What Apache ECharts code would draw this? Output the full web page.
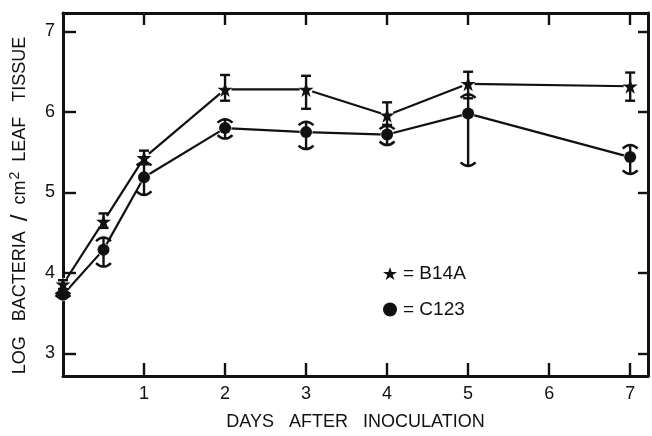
<!DOCTYPE html>
<html>
<head>
<meta charset="utf-8">
<script src="https://cdn.jsdelivr.net/npm/echarts@6/dist/echarts.min.js"></script>
<style>
html,body{margin:0;padding:0;background:#fff;}
#chart{width:652px;height:436px;}
</style>
</head>
<body>
<div id="chart"></div>
<script>
// ---- data ----
var days      = [0, 0.5, 1, 2, 3, 4, 5, 7];
var b14a      = [3.86, 4.64, 5.43, 6.28, 6.28, 5.96, 6.35, 6.32];
var b14aLow   = [3.80, 4.56, 5.35, 6.14, 6.04, 5.84, 6.17, 6.14];
var b14aHigh  = [3.91, 4.74, 5.52, 6.46, 6.45, 6.12, 6.50, 6.49];
var c123      = [3.73, 4.29, 5.19, 5.80, 5.75, 5.72, 5.98, 5.44];
var c123Low   = [3.68, 4.08, 4.97, 5.67, 5.54, 5.59, 5.33, 5.23];
var c123High  = [3.78, 4.44, 5.38, 5.91, 5.88, 5.83, 6.22, 5.59];
var xTicks    = [1, 2, 3, 4, 5, 6, 7];
var yTicks    = [3, 4, 5, 6, 7];
var seriesNames = ['B14A', 'C123'];
var xTitle = 'DAYS   AFTER   INOCULATION';

// ---- build ----
var FONT = 'Liberation Sans, Arial, sans-serif';
var INK = '#111111';
var STAR = 'path://M50,0 L61.8,35.4 L99,35.4 L69,57.3 L80.4,92.7 L50,70.8 L19.6,92.7 L31,57.3 L1,35.4 L38.2,35.4 Z';

function pairs(xs, ys){ return xs.map(function(x,i){ return [x, ys[i]]; }); }
function triples(xs, lo, hi){ return xs.map(function(x,i){ return [x, lo[i], hi[i]]; }); }

function errRender(curved){
  return function(params, api){
    var x = api.value(0), lo = api.value(1), hi = api.value(2);
    var pt = api.coord([x, hi]), pb = api.coord([x, lo]);
    var st = {stroke: INK, lineWidth: 2.4, fill: null};
    var ch = [{type:'line', shape:{x1:pt[0], y1:pt[1], x2:pb[0], y2:pb[1]}, style: st}];
    if (curved) {
      var w = 7.5, d = 3.5;
      ch.push({type:'bezierCurve', shape:{x1:pt[0]-w, y1:pt[1]+d, cpx1:pt[0], cpy1:pt[1]-d, x2:pt[0]+w, y2:pt[1]+d}, style: st});
      ch.push({type:'bezierCurve', shape:{x1:pb[0]-w, y1:pb[1]-d, cpx1:pb[0], cpy1:pb[1]+d, x2:pb[0]+w, y2:pb[1]-d}, style: st});
    } else {
      var w2 = 5;
      ch.push({type:'line', shape:{x1:pt[0]-w2, y1:pt[1], x2:pt[0]+w2, y2:pt[1]}, style: st});
      ch.push({type:'line', shape:{x1:pb[0]-w2, y1:pb[1], x2:pb[0]+w2, y2:pb[1]}, style: st});
    }
    return {type:'group', children: ch};
  };
}

var axisLine = {show:true, onZero:false, lineStyle:{color:INK, width:3}};
var xMin = 0, xMax = 7.22, yMin = 2.72, yMax = 7.23;

var option = {
  backgroundColor: '#ffffff',
  animation: false,
  textStyle: {fontFamily: FONT, color: INK},
  grid: {left: 61, right: 4, top: 13, bottom: 56, containLabel: false},
  xAxis: [{
    type:'value', min:xMin, max:xMax, position:'bottom',
    axisLine: axisLine,
    axisTick: {show:true, inside:true, length:13, customValues: xTicks, lineStyle:{color:INK, width:2.4}},
    axisLabel: {show:true, customValues: xTicks, fontSize:18, color:INK, margin:9, fontFamily:FONT},
    splitLine: {show:false},
    name: xTitle, nameLocation:'middle', nameGap:37,
    nameTextStyle: {fontSize:18, color:INK, fontFamily:FONT}
  },{
    type:'value', min:xMin, max:xMax, position:'top',
    axisLine: axisLine,
    axisTick: {show:true, inside:true, length:12, customValues: xTicks, lineStyle:{color:INK, width:2.4}},
    axisLabel: {show:false}, splitLine:{show:false}
  }],
  yAxis: [{
    type:'value', min:yMin, max:yMax, position:'left',
    axisLine: axisLine,
    axisTick: {show:true, inside:true, length:13, customValues: yTicks, lineStyle:{color:INK, width:2.4}},
    axisLabel: {show:true, customValues: yTicks, fontSize:18, color:INK, margin:8, fontFamily:FONT},
    splitLine: {show:false},
    name: '{a|LOG   BACTERIA  }{s|/}{a|  cm}{b|2}{a|  LEAF   TISSUE}{c|}',
    nameLocation:'middle', nameGap:31,
    nameTextStyle: {
      fontSize:18, color:INK, fontFamily:FONT,
      rich: {
        a: {fontSize:18, color:INK, fontFamily:FONT, lineHeight:24},
        s: {fontSize:24, color:INK, fontFamily:FONT, lineHeight:24},
        b: {fontSize:14, color:INK, fontFamily:FONT, verticalAlign:'top', lineHeight:14, padding:[0,0,0,1]},
        c: {width:22, lineHeight:24}
      }
    }
  },{
    type:'value', min:yMin, max:yMax, position:'right',
    axisLine: axisLine,
    axisTick: {show:true, inside:true, length:10, customValues: yTicks, lineStyle:{color:INK, width:2.4}},
    axisLabel: {show:false}, splitLine:{show:false}
  }],
  legend: {
    orient:'vertical', left:378, top:259, itemWidth:14, itemHeight:14, itemGap:17,
    data: [{name:seriesNames[0], icon:STAR}, {name:seriesNames[1], icon:'circle'}],
    formatter: '= {name}',
    textStyle: {fontSize:19, color:INK, fontFamily:FONT, padding:[0,0,0,1]},
    selectedMode:false
  },
  series: [
    {name: seriesNames[0]+' line', type:'line', data: pairs(days, b14a), z:2,
     symbol:'circle', symbolSize:13, itemStyle:{color:'#ffffff', borderWidth:0, opacity:1},
     lineStyle:{color:INK, width:2.2}, clip:false},
    {name: seriesNames[1]+' line', type:'line', data: pairs(days, c123), z:2,
     symbol:'circle', symbolSize:13, itemStyle:{color:'#ffffff', borderWidth:0, opacity:1},
     lineStyle:{color:INK, width:2.2}, clip:false},
    {name: seriesNames[0]+' err', type:'custom', renderItem: errRender(false), data: triples(days, b14aLow, b14aHigh), z:3},
    {name: seriesNames[1]+' err', type:'custom', renderItem: errRender(true), data: triples(days, c123Low, c123High), z:3},
    {name: seriesNames[0], type:'scatter', data: pairs(days, b14a), symbol: STAR, symbolSize:15, itemStyle:{color:INK, opacity:1}, z:4, clip:false},
    {name: seriesNames[1], type:'scatter', data: pairs(days, c123), symbol:'circle', symbolSize:12, itemStyle:{color:INK, opacity:1}, z:4, clip:false}
  ]
};

var chart = echarts.init(document.getElementById('chart'), null, {renderer:'canvas'});
chart.setOption(option);
</script>
</body>
</html>
